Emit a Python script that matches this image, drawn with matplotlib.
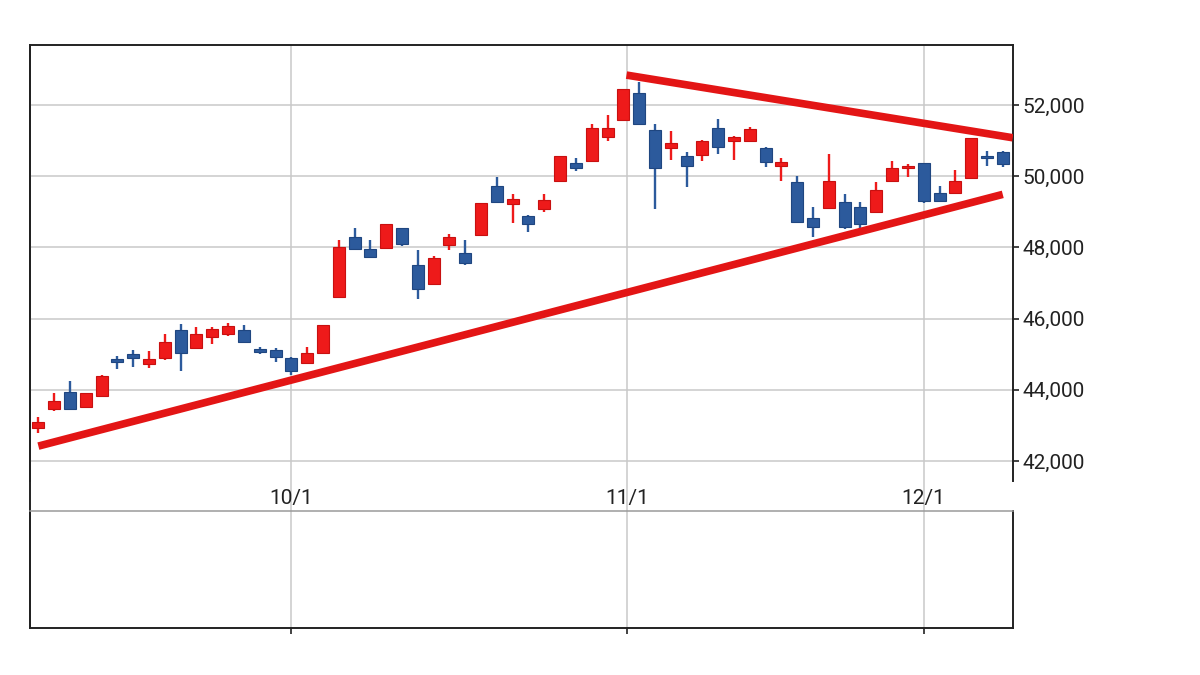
import numpy as np
import pandas as pd
from matplotlib import pyplot as plt

plt.rcParams['font.family'] = ['Roboto', 'DejaVu Sans']

# trading days shown (Nikkei 225, Sept 5 - Dec 8)
dates = [
    '2025-09-05', '2025-09-08', '2025-09-09', '2025-09-10', '2025-09-11', '2025-09-12',
    '2025-09-16', '2025-09-17', '2025-09-18', '2025-09-19', '2025-09-22', '2025-09-24',
    '2025-09-25', '2025-09-26', '2025-09-29', '2025-09-30',
    '2025-10-01', '2025-10-02', '2025-10-03', '2025-10-06', '2025-10-07', '2025-10-08',
    '2025-10-09', '2025-10-10', '2025-10-14', '2025-10-15', '2025-10-16', '2025-10-17',
    '2025-10-20', '2025-10-21', '2025-10-22', '2025-10-23', '2025-10-24', '2025-10-27',
    '2025-10-28', '2025-10-29', '2025-10-30', '2025-10-31',
    '2025-11-04', '2025-11-05', '2025-11-06', '2025-11-07', '2025-11-10', '2025-11-11',
    '2025-11-12', '2025-11-13', '2025-11-14', '2025-11-17', '2025-11-18', '2025-11-19',
    '2025-11-20', '2025-11-21', '2025-11-25', '2025-11-26', '2025-11-27', '2025-11-28',
    '2025-12-01', '2025-12-02', '2025-12-03', '2025-12-04', '2025-12-05', '2025-12-08',
]

opens = [42935, 43450, 43930, 43510, 43830, 44860, 45000, 44730, 44890, 45680,
         45170, 45480, 45560, 45680, 45160, 45110, 44900, 44740, 45030, 46610,
         48280, 47950, 47990, 48540, 47510, 46980, 48070, 47830, 48340, 49730,
         49220, 48890, 49080, 49870, 50360, 50440, 51110, 51580, 52330, 51300,
         50780, 50570, 50600, 51350, 50990, 51000, 50800, 50290, 49830, 48830,
         49120, 49280, 49140, 48990, 49870, 50220, 50360, 49540, 49520, 49940,
         50580, 50670]
highs = [43240, 43900, 44250, 43920, 44420, 44940, 45120, 45090, 45580, 45840,
         45770, 45770, 45880, 45820, 45190, 45170, 44930, 45190, 45830, 48210,
         48550, 48200, 48660, 48550, 47930, 47760, 48370, 48210, 49250, 49990,
         49500, 48900, 49500, 50580, 50500, 51460, 51720, 52460, 52650, 51460,
         51270, 50690, 51020, 51600, 51120, 51370, 50830, 50500, 50010, 49130,
         50620, 49500, 49280, 49830, 50440, 50340, 50370, 49730, 50170, 51070,
         50710, 50720]
lows = [42780, 43410, 43440, 43490, 43820, 44580, 44650, 44600, 44850, 44530,
        45140, 45280, 45520, 45330, 45020, 44790, 44420, 44720, 45020, 46600,
        47940, 47710, 47980, 48050, 46540, 46960, 47930, 47520, 48330, 49240,
        48680, 48440, 49000, 49860, 50150, 50430, 50990, 51570, 51450, 49070,
        50450, 49700, 50430, 50610, 50450, 50970, 50270, 49860, 48700, 48300,
        49110, 48530, 48530, 48980, 49870, 49990, 49240, 49290, 49510, 49930,
        50290, 50270]
closes = [43100, 43690, 43460, 43900, 44400, 44770, 44900, 44870, 45340, 45040,
          45570, 45700, 45800, 45350, 45050, 44910, 44540, 45030, 45820, 48020,
          47950, 47720, 48650, 48100, 46830, 47710, 48300, 47550, 49240, 49280,
          49350, 48660, 49330, 50570, 50220, 51350, 51350, 52450, 51460, 50240,
          50920, 50300, 50990, 50830, 51110, 51320, 50390, 50390, 48710, 48570,
          49870, 48580, 48650, 49610, 50220, 50300, 49300, 49300, 49870, 51070,
          50500, 50330]

# hand-drawn triangle lines: (position, price) at each end
lower_line_x = [0, 61]
lower_line_y = [42420, 49490]
upper_line_x = [37.2, 61.63]
upper_line_y = [52840, 51080]

month_labels = ['10/1', '11/1', '12/1']
month_dates = ['2025-10-01', '2025-11-01', '2025-12-01']

UP = '#ee1a1a'
DOWN = '#2c5a9c'
GRID = '#c9c9c9'
INK = '#222222'

df = pd.DataFrame({'date': pd.to_datetime(dates), 'open': opens, 'high': highs,
                   'low': lows, 'close': closes})
xs = np.arange(len(df))
# month gridlines sit where the calendar date falls between trading days
ordinals = df['date'].map(pd.Timestamp.toordinal).values
tick_pos = np.interp([pd.Timestamp(d).toordinal() for d in month_dates], ordinals, xs)

fig = plt.figure(figsize=(12, 6.75), dpi=100)
fig.patch.set_facecolor('white')
xlim = (-0.53, 61.65)

# background axes: vertical gridlines across both panels + continuous left edge
axbg = fig.add_axes([0.025, 1 - 628 / 675, 0.8192, (628 - 45) / 675])
axbg.set_xlim(xlim)
axbg.set_xticks([])
axbg.set_yticks([])
for side in ['top', 'right', 'bottom']:
    axbg.spines[side].set_visible(False)
axbg.spines['left'].set_color(INK)
axbg.spines['left'].set_linewidth(1.4)
for p in tick_pos:
    axbg.axvline(p, color=GRID, lw=1.1, zorder=0)

ax = fig.add_axes([0.025, 1 - 481 / 675, 0.8192, (481 - 45) / 675])
ax.patch.set_alpha(0)
ax.set_xlim(xlim)
ax.set_ylim(41440, 53685)

up = df['close'] >= df['open']
colors = np.where(up, UP, DOWN)
edges = np.where(up, '#c81010', '#1f4680')
body_lo = np.minimum(df['open'], df['close'])
body_h = np.maximum(np.abs(df['close'] - df['open']), 40)
ax.vlines(xs, df['low'], df['high'], colors=colors, lw=1.7, zorder=3)
ax.bar(xs, body_h, bottom=body_lo, width=0.76, color=colors, edgecolor=edges,
       linewidth=0.8, zorder=4)

ax.plot(lower_line_x, lower_line_y, color='#e31515', lw=5.5, solid_capstyle='butt', zorder=5)
ax.plot(upper_line_x, upper_line_y, color='#e31515', lw=5.5, solid_capstyle='butt', zorder=5)

ax.set_yticks(np.arange(42000, 52001, 2000))
ax.yaxis.set_major_formatter(plt.FuncFormatter(lambda v, _: f'{v:,.0f}'))
ax.yaxis.tick_right()
ax.yaxis.grid(True, color=GRID, lw=1.1, zorder=0)
ax.tick_params(axis='y', length=4, width=1.2, pad=3, labelsize=15, colors=INK)
ax.set_xticks(tick_pos)
ax.set_xticklabels(month_labels)
ax.tick_params(axis='x', length=0, pad=6, labelsize=15, colors=INK)
for side in ['top', 'left', 'right']:
    ax.spines[side].set_color(INK)
    ax.spines[side].set_linewidth(1.4)
ax.spines['bottom'].set_visible(False)

# empty lower panel
ax2 = fig.add_axes([0.025, 1 - 628 / 675, 0.8192, (628 - 511) / 675])
ax2.patch.set_alpha(0)
ax2.set_xlim(xlim)
ax2.set_xticks(tick_pos)
ax2.set_xticklabels([])
ax2.set_yticks([])
ax2.tick_params(axis='x', direction='out', length=4, width=1.2, colors=INK)
for side in ['bottom', 'left', 'right']:
    ax2.spines[side].set_color(INK)
    ax2.spines[side].set_linewidth(1.4)
ax2.spines['top'].set_color('#9a9a9a')
ax2.spines['top'].set_linewidth(1.1)

fig.savefig('out.png', dpi=100)
